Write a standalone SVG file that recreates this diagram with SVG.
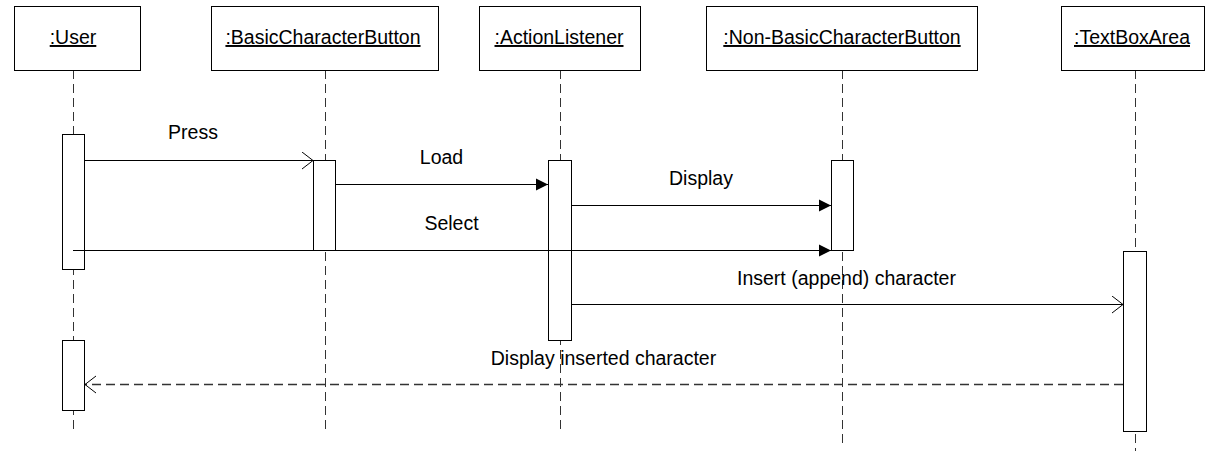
<svg xmlns="http://www.w3.org/2000/svg" width="1207" height="451" viewBox="0 0 1207 451">
  <style>
    text { font-family: "Liberation Sans", Arial, sans-serif; font-size: 19.5px; fill: #000; }
    .obj { fill: #fff; stroke: #000; stroke-width: 1; }
    .name { text-anchor: middle; text-decoration: underline; }
    .life { stroke: #333; stroke-width: 1; stroke-dasharray: 9 5; fill: none; }
    .bar { fill: #fff; stroke: #000; stroke-width: 1; }
    .msg { stroke: #000; stroke-width: 1; fill: none; }
    .ret { stroke: #333; stroke-width: 1.5; stroke-dasharray: 9 5; fill: none; }
    .lbl { text-anchor: middle; }
  </style>
  <defs>
    <marker id="solid" markerUnits="userSpaceOnUse" markerWidth="13" markerHeight="14" refX="12" refY="6.5" orient="auto">
      <path d="M0,0.5 L12,6.5 L0,12.5 z" fill="#000"/>
    </marker>
    <marker id="open" markerUnits="userSpaceOnUse" markerWidth="13" markerHeight="19" refX="12" refY="9" orient="auto">
      <path d="M1,0.5 L12,9 L1,17.5" fill="none" stroke="#000" stroke-width="1"/>
    </marker>
  </defs>

  <rect width="1207" height="451" fill="#fff"/>

  <!-- lifelines -->
  <g id="lifelines">
    <line class="life" x1="73.5" y1="70" x2="73.5" y2="432"/>
    <line class="life" x1="325.5" y1="70" x2="325.5" y2="432"/>
    <line class="life" x1="560.5" y1="70" x2="560.5" y2="432"/>
    <line class="life" x1="842.5" y1="70" x2="842.5" y2="447"/>
    <line class="life" x1="1135.5" y1="70" x2="1135.5" y2="451" stroke="#888"/>
  </g>

  <!-- objects -->
  <g id="user">
    <rect class="obj" x="14.5" y="6.5" width="126" height="64"/>
    <text class="name" x="73" y="44">:User</text>
    <rect class="bar" x="62.5" y="134.5" width="22" height="135"/>
    <rect class="bar" x="62.5" y="340.5" width="22" height="70"/>
  </g>
  <g id="basicCharacterButton">
    <rect class="obj" x="211.5" y="6.5" width="227" height="64"/>
    <text class="name" x="323" y="44">:BasicCharacterButton</text>
    <rect class="bar" x="313.5" y="160.5" width="22" height="90"/>
  </g>
  <g id="actionListener">
    <rect class="obj" x="479.5" y="6.5" width="161" height="64"/>
    <text class="name" x="559" y="44">:ActionListener</text>
    <rect class="bar" x="548.5" y="160.5" width="23" height="180"/>
  </g>
  <g id="nonBasicCharacterButton">
    <rect class="obj" x="706.5" y="6.5" width="271" height="64"/>
    <text class="name" x="842" y="44">:Non-BasicCharacterButton</text>
    <rect class="bar" x="831.5" y="160.5" width="22" height="90"/>
  </g>
  <g id="textBoxArea">
    <rect class="obj" x="1061.5" y="6.5" width="143" height="64"/>
    <text class="name" x="1132" y="44">:TextBoxArea</text>
    <rect class="bar" x="1123.5" y="251.5" width="23" height="180"/>
  </g>

  <!-- messages -->
  <g id="connectors">
    <line class="msg" x1="85" y1="160.5" x2="313" y2="160.5" marker-end="url(#open)"/>
    <line class="msg" x1="336" y1="184.5" x2="548" y2="184.5" marker-end="url(#solid)"/>
    <line class="msg" x1="572" y1="205.5" x2="831" y2="205.5" marker-end="url(#solid)"/>
    <line class="msg" x1="73" y1="250.5" x2="831" y2="250.5" marker-end="url(#solid)"/>
    <line class="msg" x1="572" y1="304.5" x2="1123" y2="304.5" marker-end="url(#open)"/>
    <line class="ret" x1="1123" y1="384.5" x2="85" y2="384.5" marker-end="url(#open)"/>
  </g>

  <g id="labels">
    <text class="lbl" x="193" y="139">Press</text>
    <text class="lbl" x="441.5" y="164">Load</text>
    <text class="lbl" x="701" y="185">Display</text>
    <text class="lbl" x="451.5" y="230">Select</text>
    <text class="lbl" x="846.5" y="285">Insert (append) character</text>
    <text class="lbl" x="603.5" y="365">Display inserted character</text>
  </g>
</svg>
